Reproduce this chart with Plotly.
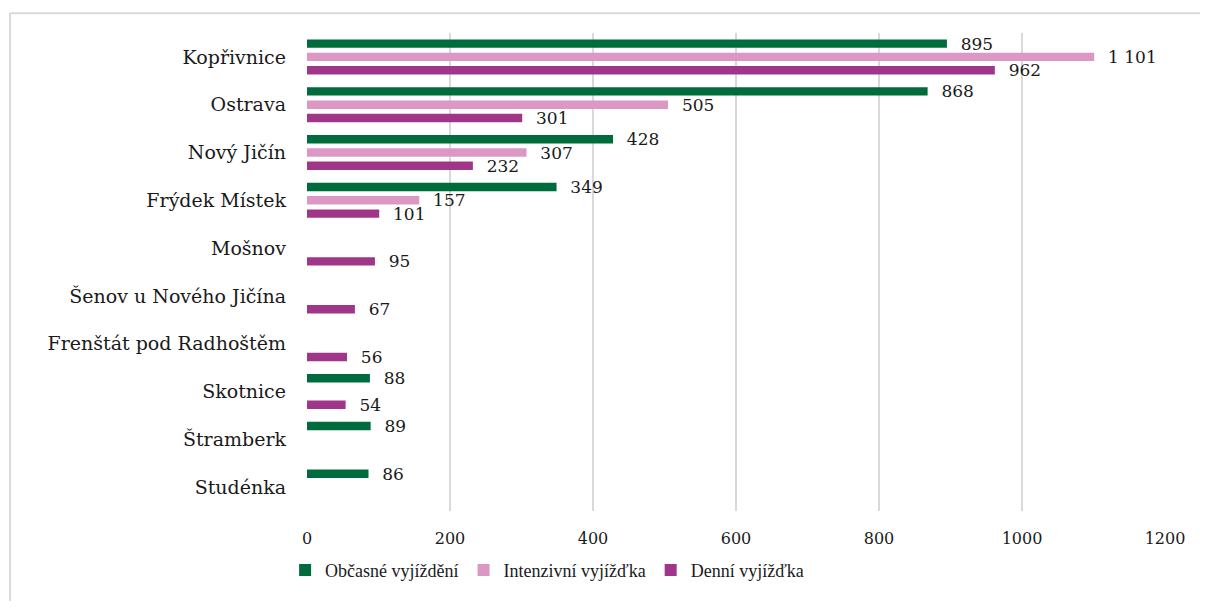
import plotly.graph_objects as go

# obce (shora dolů)
obce = ["Kopřivnice", "Ostrava", "Nový Jičín", "Frýdek Místek", "Mošnov",
        "Šenov u Nového Jičína", "Frenštát pod Radhoštěm", "Skotnice",
        "Štramberk", "Studénka"]

obcasne = [895, 868, 428, 349, None, None, None, 88, 89, 86]
intenzivni = [1101, 505, 307, 157, None, None, None, None, None, None]
denni = [962, 301, 232, 101, 95, 67, 56, 54, None, None]

x_ticks = [0, 200, 400, 600, 800, 1000, 1200]

serie = [
    ("Občasné vyjíždění", obcasne, "#006b3c"),
    ("Intenzivní vyjížďka", intenzivni, "#db98c4"),
    ("Denní vyjížďka", denni, "#a0368a"),
]

fig = go.Figure()
for name, vals, color in serie:
    fig.add_trace(go.Bar(
        y=obce, x=vals, name=name, orientation="h",
        marker=dict(color=color, line=dict(width=0)),
        texttemplate="\u00a0\u00a0%{x:,}", textposition="outside",
        textfont=dict(family="DejaVu Serif", size=17, color="#1a1a1a"),
        constraintext="none", cliponaxis=False,
        hoverinfo="x+name",
    ))

# rámeček grafu - jen horní a levá hrana jsou v okně vidět
ramecek = dict(type="line", xref="paper", yref="paper",
               line=dict(color="#d9d9d9", width=2), layer="below")

# stránka má okraj 8 px, proto je graf menší než okno
fig.update_layout(
    width=1192, height=593,
    margin=dict(l=299, r=35, t=25, b=83),
    paper_bgcolor="white", plot_bgcolor="white",
    barmode="group", bargap=0.165, bargroupgap=0.37,
    separators=", ",
    font=dict(family="DejaVu Serif", color="#1a1a1a"),
    showlegend=True,
    legend=dict(orientation="h", x=-0.0255, xanchor="left", y=-0.124, yanchor="middle",
                font=dict(family="Liberation Serif", size=18, color="#1a1a1a"),
                traceorder="normal", itemwidth=30),
    shapes=[dict(ramecek, x0=-0.3462, x1=1.06, y0=1.0412, y1=1.0412),
            dict(ramecek, x0=-0.3462, x1=-0.3462, y0=-0.2, y1=1.0412)],
)

fig.update_xaxes(range=[0, 1200], tickvals=x_ticks, showgrid=True,
                 gridcolor="#d9d9d9", gridwidth=2, zeroline=False,
                 showline=False, ticks="", ticklabelstandoff=16,
                 tickfont=dict(family="DejaVu Serif", size=16, color="#1a1a1a"))
fig.update_yaxes(autorange="reversed", showgrid=False, zeroline=False,
                 showline=False, ticks="", ticklabelstandoff=20,
                 tickfont=dict(family="DejaVu Serif", size=19, color="#1a1a1a"))

fig.write_html("out.html")
